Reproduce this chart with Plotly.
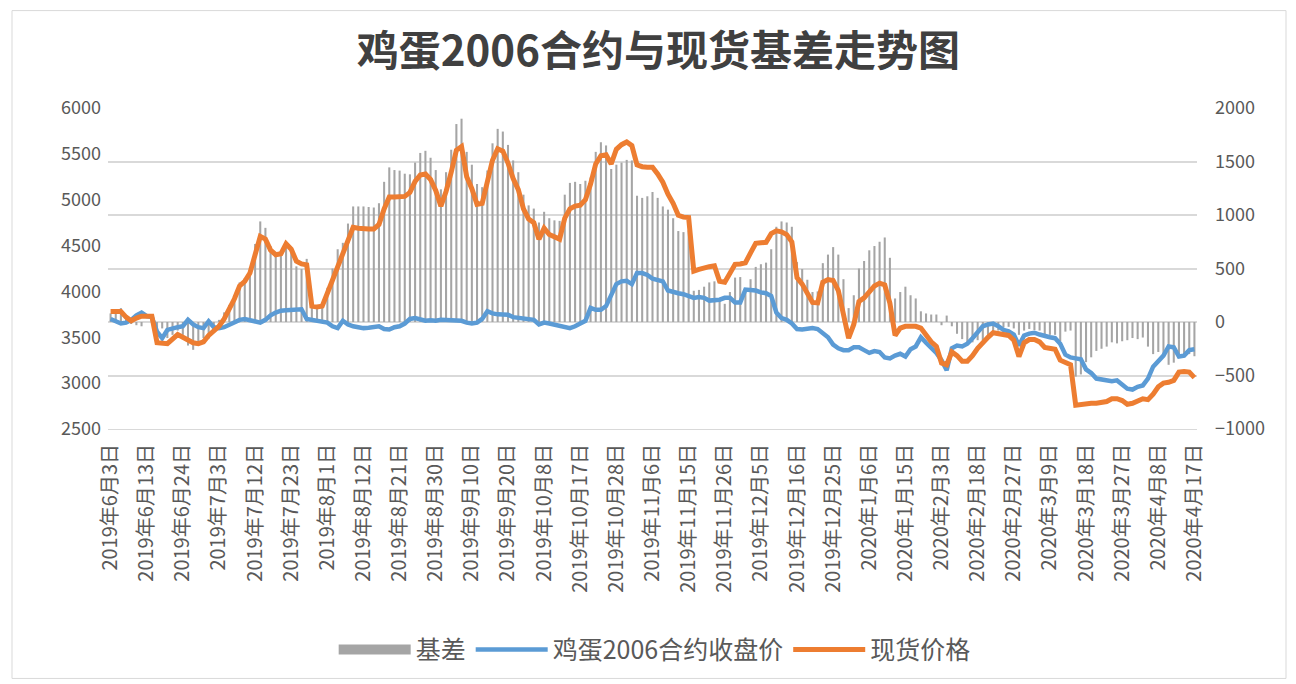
import pandas as pd
import plotly.graph_objects as go

# ---------------- data ----------------
non_trading = [
    "2019-06-07", "2019-09-13",
    "2019-10-01", "2019-10-02", "2019-10-03", "2019-10-04", "2019-10-07",
    "2020-01-01",
    "2020-01-24", "2020-01-27", "2020-01-28", "2020-01-29", "2020-01-30", "2020-01-31",
    "2020-02-04", "2020-02-05", "2020-02-06", "2020-02-07",
    "2020-04-06",
]
dates = [d for d in pd.bdate_range("2019-06-03", "2020-04-17")
         if d.strftime("%Y-%m-%d") not in non_trading]
categories = [d.strftime("%Y-%m-%d") for d in dates]

spot = [
    3780, 3780, 3780, 3720, 3680, 3710, 3730, 3730, 3730, 3440,
    3430, 3430, 3480, 3530, 3500, 3470, 3440, 3430, 3450, 3520,
    3570, 3620, 3700, 3800, 3920, 4060, 4110, 4200, 4400, 4600,
    4570, 4450, 4400, 4410, 4520, 4460, 4330, 4300, 4290, 3840,
    3830, 3840, 3980, 4120, 4280, 4420, 4560, 4700, 4690, 4680,
    4680, 4680, 4730, 4900, 5030, 5030, 5035, 5036, 5080, 5200,
    5270, 5280, 5220, 5100, 4930, 5090, 5300, 5540, 5580, 5250,
    5120, 4950, 4960, 5200, 5430, 5555, 5530, 5400, 5230, 5110,
    4900, 4790, 4750, 4570, 4690, 4620, 4590, 4570, 4800, 4900,
    4930, 4940, 5000, 5170, 5390, 5480, 5490, 5390, 5550, 5600,
    5630, 5590, 5380, 5360, 5355, 5355, 5280, 5190, 5060, 4960,
    4830, 4810, 4806, 4222, 4240, 4260, 4270, 4280, 4110, 4100,
    4210, 4295, 4300, 4313, 4420, 4525, 4530, 4535, 4630, 4660,
    4650, 4620, 4540, 4150, 4080, 3990, 3880, 3876, 4100, 4130,
    4120, 4010, 3760, 3490, 3640, 3890, 3930, 4000, 4060, 4090,
    4070, 3870, 3520, 3600, 3620, 3620, 3620, 3600, 3520, 3450,
    3400, 3220, 3200, 3340, 3300, 3240, 3240, 3300, 3380, 3450,
    3500, 3550, 3540, 3530, 3520, 3470, 3290, 3440, 3475, 3475,
    3450, 3390, 3380, 3370, 3250, 3220, 3200, 2760, 2770, 2775,
    2780, 2780, 2790, 2800, 2830, 2830, 2810, 2770, 2780, 2800,
    2830, 2820, 2880, 2960, 3000, 3010, 3030, 3120, 3127, 3120,
    3060,
]

futures = [
    3700, 3680, 3650, 3660, 3690, 3740, 3770, 3730, 3720, 3560,
    3490, 3580, 3600, 3610, 3620, 3690, 3640, 3610, 3600, 3675,
    3610, 3600, 3610, 3640, 3670, 3690, 3700, 3690, 3670, 3660,
    3690, 3740, 3770, 3790, 3795, 3800, 3810, 3805, 3700, 3690,
    3680, 3675, 3660, 3620, 3600, 3680, 3640, 3620, 3610, 3600,
    3605, 3610, 3620, 3590, 3585, 3610, 3620, 3650, 3700, 3710,
    3690, 3680, 3685, 3680, 3690, 3690, 3690, 3690, 3680, 3660,
    3650, 3660, 3700, 3784, 3760, 3750, 3750, 3745, 3720, 3710,
    3710, 3700, 3690, 3640, 3660, 3650, 3640, 3625, 3610, 3600,
    3620, 3650, 3680, 3820, 3800, 3800, 3840, 3960, 4080, 4110,
    4115, 4080, 4200, 4200, 4180, 4140, 4120, 4110, 4010, 3990,
    3980, 3970, 3950, 3930, 3940, 3930, 3900, 3900, 3910, 3930,
    3930, 3880, 3880, 4020, 4020, 4010, 3990, 3980, 3950, 3770,
    3710, 3690, 3650, 3590, 3585, 3595, 3600, 3590, 3550, 3500,
    3420, 3380, 3360, 3360, 3390, 3390, 3360, 3330, 3350, 3340,
    3280, 3270, 3300, 3320, 3290, 3370, 3400, 3500, 3440, 3380,
    3330, 3250, 3140, 3380, 3410, 3400, 3430, 3490, 3550, 3620,
    3640, 3650, 3620, 3580, 3565, 3530, 3410, 3520, 3540, 3550,
    3530, 3510, 3500, 3490, 3430, 3310, 3280, 3270, 3260, 3150,
    3110, 3050, 3040, 3030, 3020, 3030, 2990, 2940, 2930, 2960,
    2975, 3050, 3180, 3240, 3300, 3400, 3390, 3290, 3300, 3360,
    3370,
]

basis = [
    80, 100, 130, 60, -10, -30, -40, 0, 10, -120,
    -60, -150, -120, -80, -120, -220, -260, -180, -150, -155,
    -40, 20, 90, 160, 250, 370, 410, 510, 730, 940,
    880, 710, 630, 620, 725, 660, 520, 495, 590, 150,
    150, 165, 320, 500, 680, 740, 920, 1080, 1080, 1080,
    1075, 1070, 1110, 1310, 1445, 1420, 1415, 1386, 1380, 1490,
    1580, 1600, 1535, 1420, 1240, 1400, 1610, 1850, 1900, 1590,
    1470, 1290, 1260, 1416, 1670, 1805, 1780, 1655, 1510, 1400,
    1190, 1090, 1060, 930, 1030, 970, 950, 945, 1190, 1300,
    1310, 1290, 1320, 1350, 1590, 1680, 1650, 1430, 1470, 1490,
    1515, 1510, 1180, 1160, 1175, 1215, 1160, 1080, 1050, 970,
    850, 840, 856, 292, 300, 330, 370, 380, 200, 170,
    280, 415, 420, 293, 400, 515, 540, 555, 680, 890,
    940, 930, 890, 560, 495, 395, 280, 286, 550, 630,
    700, 630, 400, 130, 250, 500, 570, 670, 710, 750,
    790, 600, 220, 280, 330, 250, 220, 100, 80, 70,
    70, -30, 60, -40, -110, -160, -190, -190, -170, -170,
    -140, -100, -80, -50, -45, -60, -120, -80, -65, -75,
    -80, -120, -120, -120, -180, -90, -80, -510, -490, -375,
    -330, -270, -250, -230, -190, -200, -180, -170, -150, -160,
    -145, -230, -300, -280, -300, -400, -380, -300, -320, -300,
    -320,
]

tick_step = 7
tick_vals = categories[::tick_step]
tick_text = [f"{d.year}年{d.month}月{d.day}日" for d in dates[::tick_step]]

left_ticks = [2500, 3000, 3500, 4000, 4500, 5000, 5500, 6000]
right_ticks = [-1000, -500, 0, 500, 1000, 1500, 2000]

# ---------------- figure ----------------
FONT = "Noto Sans CJK SC"
GREY_TXT = "#595959"
GRID = "#d9d9d9"

fig = go.Figure()

# legend proxy for the bars (wide rectangle like Excel)
fig.add_trace(go.Scatter(x=[None], y=[None], mode="lines", name="基差",
                         line=dict(color="#a5a5a5", width=12), yaxis="y"))

fig.add_trace(go.Bar(x=categories, y=basis, name="基差", showlegend=False,
                     marker=dict(color="#a5a5a5", line=dict(width=0)), yaxis="y"))

fig.add_trace(go.Scatter(x=categories, y=futures, name="鸡蛋2006合约收盘价",
                         mode="lines", line=dict(color="#5b9bd5", width=4.5),
                         yaxis="y2"))
fig.add_trace(go.Scatter(x=categories, y=spot, name="现货价格",
                         mode="lines", line=dict(color="#ed7d31", width=5),
                         yaxis="y2"))

fig.update_layout(
    width=1296, height=684,
    margin=dict(l=108, r=99, t=108, b=253),
    paper_bgcolor="white", plot_bgcolor="white",
    font=dict(family=FONT, color=GREY_TXT),
    bargap=0.6,
    title=dict(text="<b>鸡蛋2006合约与现货基差走势图</b>",
               font=dict(family=FONT, size=42, color="#404040"),
               x=0.508, xref="container", xanchor="center",
               y=1 - 51 / 684, yref="container", yanchor="middle"),
    xaxis=dict(type="category", range=[-0.5, len(categories) - 0.5],
               tickmode="array", tickvals=tick_vals, ticktext=tick_text,
               tickangle=-90, tickfont=dict(size=20, color=GREY_TXT, family=FONT),
               showgrid=False, showline=True, linecolor=GRID, linewidth=1,
               ticks="", ticklabelstandoff=6),
    yaxis=dict(side="right", range=[-1000, 2000], tickmode="array",
               tickvals=right_ticks, showgrid=True, gridcolor=GRID, gridwidth=1.5,
               zeroline=False, showline=False, ticks="",
               tickfont=dict(size=18, color=GREY_TXT, family=FONT),
               ticklabelstandoff=17),
    yaxis2=dict(side="left", overlaying="y", range=[2500, 6000], tickmode="array",
                tickvals=left_ticks, showgrid=False, zeroline=False, showline=False,
                ticks="", tickfont=dict(size=18, color=GREY_TXT, family=FONT),
                ticklabelstandoff=6),
    legend=dict(orientation="h", x=0.502, xanchor="center",
                y=(431 - 653) / 323, yanchor="middle",
                font=dict(size=25, color=GREY_TXT, family=FONT),
                itemwidth=72, traceorder="normal", bgcolor="rgba(0,0,0,0)"),
    showlegend=True,
    shapes=[dict(type="rect", xref="paper", yref="paper",
                 x0=(12 - 108) / 1089, x1=(1286 - 108) / 1089,
                 y0=(431 - 682) / 323, y1=(431 - 10) / 323,
                 line=dict(color=GRID, width=1), layer="below")],
)

fig.write_html("out.html", config={"displayModeBar": False},
               post_script="document.body.style.margin='0';")
